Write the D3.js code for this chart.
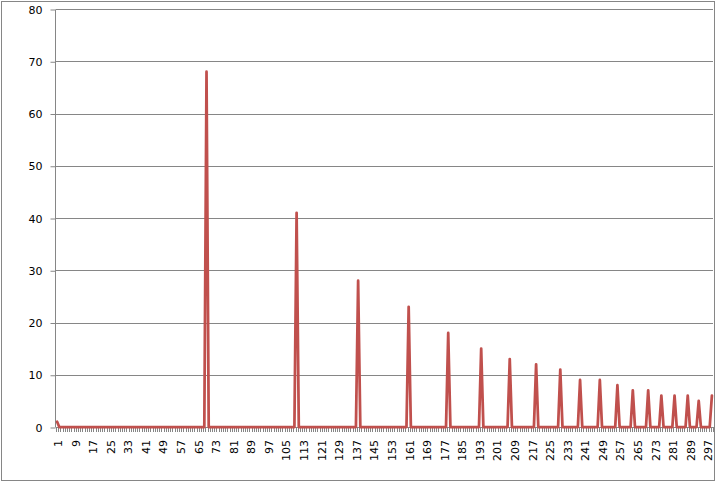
<!DOCTYPE html>
<html>
<head>
<meta charset="utf-8">
<script src="https://cdn.jsdelivr.net/npm/d3@7"></script>
<style>
  html, body { margin: 0; padding: 0; background: #fff; }
  svg { display: block; }
  text { font-family: "DejaVu Sans", Verdana, sans-serif; font-size: 11px; fill: #000; }
</style>
</head>
<body>
<svg id="chart" width="720" height="483"></svg>
<script>
// ---- data ----
const categoryCount = 299;                       // categories 1..299
const categories = d3.range(1, categoryCount + 1);
// non-zero points (all other categories are 0)
const spikeCategories = [1, 69, 110, 138, 161, 179, 194, 207, 219, 230, 239, 248, 256, 263, 270, 276, 282, 288, 293, 299];
const spikeValues     = [1, 68,  41,  28,  23,  18,  15,  13,  12,  11,   9,   9,   8,   7,   7,   6,   6,   6,   5,   6];
const yTicks = [0, 10, 20, 30, 40, 50, 60, 70, 80];
const xTickLabels = categories.filter(c => (c - 1) % 8 === 0);

const spikeMap = new Map(spikeCategories.map((c, i) => [c, spikeValues[i]]));
const series = categories.map(c => ({ cat: c, value: spikeMap.has(c) ? spikeMap.get(c) : 0 }));

// ---- layout ----
const svg = d3.select("#chart");
const plot = { left: 56, right: 713, top: 9, bottom: 427 };

svg.append("rect")
  .attr("x", 1.5).attr("y", 1.5).attr("width", 713).attr("height", 479)
  .attr("fill", "#fff").attr("stroke", "#868686").attr("stroke-width", 1);

const x = d3.scaleBand().domain(categories).range([plot.left, plot.right]).padding(0);
const y = d3.scaleLinear().domain([0, 80]).range([plot.bottom, plot.top]);

// gridlines
svg.append("g").selectAll("line").data(yTicks.filter(t => t > 0)).join("line")
  .attr("x1", plot.left).attr("x2", plot.right)
  .attr("y1", d => Math.round(y(d)) + 0.5).attr("y2", d => Math.round(y(d)) + 0.5)
  .attr("stroke", "#868686").attr("stroke-width", 1);

// y axis
const yAxis = svg.append("g").attr("transform", `translate(${plot.left - 0.5},0.5)`)
  .call(d3.axisLeft(y).tickValues(yTicks).tickSize(5).tickPadding(8).tickFormat(d3.format("d")));
yAxis.select(".domain").attr("stroke", "#868686").attr("d", `M0,${plot.top}V${plot.bottom}`);
yAxis.selectAll(".tick line").attr("stroke", "#868686");
yAxis.selectAll(".tick text").attr("font-family", "DejaVu Sans").attr("font-size", 11).attr("fill", "#000");

// x axis line + category tick marks (between categories)
const gx = svg.append("g");
gx.append("line").attr("x1", plot.left).attr("x2", plot.right)
  .attr("y1", plot.bottom + 0.5).attr("y2", plot.bottom + 0.5)
  .attr("stroke", "#868686");
const boundaries = categories.map(c => x(c)).concat([plot.right]);
gx.selectAll("line.tk").data(boundaries).join("line").attr("class", "tk")
  .attr("x1", d => Math.round(d) + 0.5).attr("x2", d => Math.round(d) + 0.5)
  .attr("y1", plot.bottom).attr("y2", plot.bottom + 5)
  .attr("stroke", "#868686").attr("stroke-width", 1);

// x labels rotated
gx.selectAll("text").data(xTickLabels).join("text")
  .attr("transform", d => `translate(${x(d) + x.bandwidth() / 2 + 1},${plot.bottom + 13}) rotate(-90)`)
  .attr("text-anchor", "end").attr("dy", "0.35em")
  .attr("font-family", "DejaVu Sans").attr("font-size", 11)
  .text(d => d);

// series line
const line = d3.line().x(d => x(d.cat) + x.bandwidth() / 2).y(d => y(d.value));
svg.append("path").datum(series)
  .attr("d", line).attr("fill", "none")
  .attr("stroke", "#C0504D").attr("stroke-width", 2.75)
  .attr("stroke-linejoin", "round").attr("stroke-linecap", "round");
</script>
</body>
</html>
